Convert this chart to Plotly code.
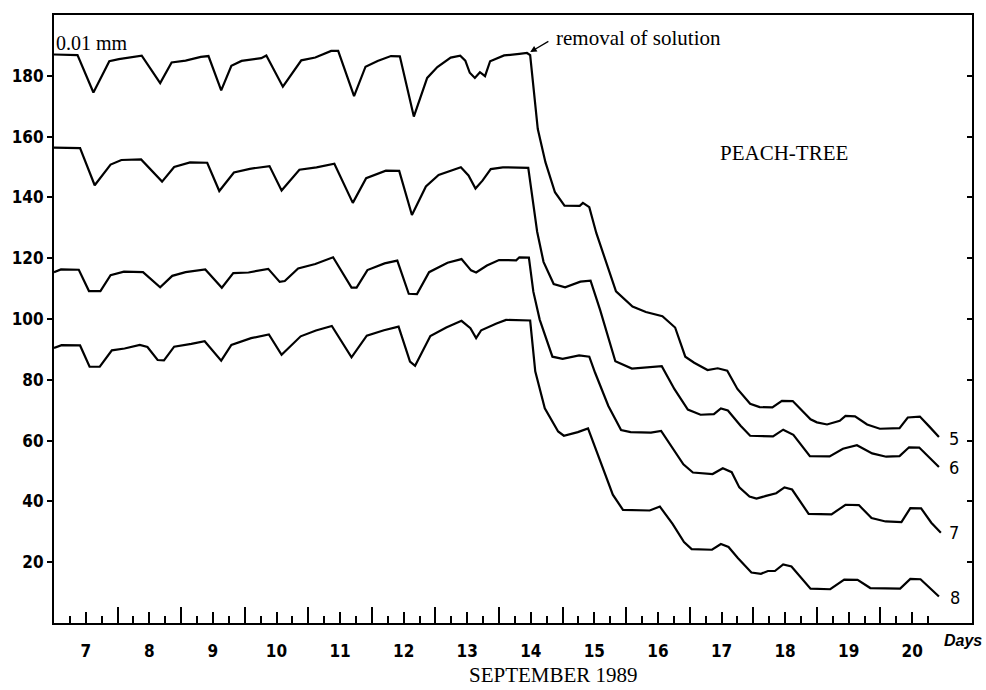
import plotly.graph_objects as go

# ---- data (day of September 1989, reading in 0.01 mm) ----
day5 = [6.50, 6.87, 7.12, 7.37, 7.52, 7.76, 7.88, 8.17, 8.35, 8.57,
        8.81, 8.93, 9.13, 9.29, 9.45, 9.76, 9.84, 10.10, 10.29, 10.39,
        10.61, 10.86, 10.97, 11.22, 11.40, 11.59, 11.80, 11.94, 12.16, 12.37,
        12.53, 12.74, 12.89, 12.97, 13.04, 13.12, 13.20, 13.28, 13.36, 13.58,
        13.82, 13.94, 13.99, 14.11, 14.23, 14.38, 14.53, 14.77, 14.82, 14.92,
        15.03, 15.34, 15.60, 15.81, 16.07, 16.27, 16.43, 16.57, 16.78, 16.94,
        17.09, 17.25, 17.45, 17.60, 17.80, 17.95, 18.12, 18.40, 18.50, 18.66,
        18.86, 18.95, 19.10, 19.29, 19.49, 19.80, 19.93, 20.12, 20.27, 20.42]
val5 = [187.0, 186.8, 174.5, 184.8, 185.5, 186.3, 186.6, 177.6, 184.4, 185.0,
        186.2, 186.5, 175.2, 183.3, 184.9, 185.8, 186.7, 176.4, 182.2, 185.1,
        186.0, 188.2, 188.2, 173.3, 183.0, 184.9, 186.5, 186.4, 166.6, 179.3,
        182.9, 186.0, 186.6, 185.0, 181.0, 179.3, 181.2, 179.9, 184.8, 186.7,
        187.2, 187.5, 186.8, 162.5, 151.6, 141.7, 137.3, 137.2, 138.2, 136.8,
        128.3, 109.1, 104.1, 102.3, 100.9, 97.2, 87.6, 85.6, 83.2, 83.8,
        83.0, 77.0, 72.1, 71.0, 70.9, 73.1, 73.0, 67.0, 66.0, 65.3,
        66.5, 68.1, 68.0, 65.3, 63.9, 64.1, 67.6, 67.9, 64.6, 61.2]

day6 = [6.50, 6.91, 7.14, 7.39, 7.56, 7.87, 8.20, 8.39, 8.64, 8.91,
        9.10, 9.33, 9.58, 9.89, 10.08, 10.36, 10.63, 10.91, 11.20, 11.41,
        11.72, 11.93, 12.13, 12.35, 12.55, 12.90, 13.02, 13.13, 13.24, 13.37,
        13.56, 13.96, 14.10, 14.20, 14.36, 14.54, 14.78, 14.94, 15.09, 15.33,
        15.59, 15.86, 16.06, 16.26, 16.47, 16.67, 16.88, 16.99, 17.10, 17.30,
        17.45, 17.81, 17.97, 18.13, 18.39, 18.70, 18.91, 19.13, 19.37, 19.59,
        19.80, 19.95, 20.11, 20.42]
val6 = [156.4, 156.2, 144.0, 150.8, 152.3, 152.5, 145.2, 150.0, 151.5, 151.4,
        142.1, 148.2, 149.4, 150.3, 142.3, 149.1, 149.9, 151.1, 138.2, 146.3,
        148.8, 148.7, 134.2, 143.6, 147.4, 149.9, 147.2, 142.9, 145.5, 149.3,
        149.9, 149.7, 128.7, 118.8, 111.5, 110.4, 112.3, 112.6, 103.0, 86.1,
        83.7, 84.3, 84.5, 76.9, 70.2, 68.5, 68.7, 70.6, 69.9, 64.9,
        61.6, 61.4, 63.6, 61.9, 54.9, 54.8, 57.3, 58.5, 55.8, 54.7,
        54.9, 57.8, 57.7, 51.3]

day7 = [6.50, 6.61, 6.89, 7.05, 7.23, 7.39, 7.60, 7.90, 8.17, 8.36,
        8.57, 8.88, 9.14, 9.32, 9.56, 9.87, 10.05, 10.13, 10.34, 10.61,
        10.89, 11.18, 11.26, 11.43, 11.70, 11.90, 12.08, 12.21, 12.40, 12.69,
        12.91, 13.06, 13.14, 13.31, 13.50, 13.77, 13.82, 13.97, 14.04, 14.14,
        14.34, 14.50, 14.76, 14.92, 15.01, 15.22, 15.42, 15.57, 15.89, 16.05,
        16.40, 16.55, 16.86, 17.02, 17.16, 17.28, 17.44, 17.55, 17.70, 17.86,
        17.99, 18.11, 18.37, 18.73, 18.95, 19.16, 19.36, 19.58, 19.83, 19.97,
        20.14, 20.30, 20.45]
val7 = [115.4, 116.3, 116.2, 109.2, 109.2, 114.4, 115.6, 115.4, 110.4, 114.2,
        115.4, 116.3, 110.3, 115.1, 115.3, 116.5, 112.2, 112.5, 116.6, 118.1,
        120.3, 110.3, 110.3, 116.1, 118.3, 119.2, 108.3, 108.2, 115.4, 118.5,
        119.7, 116.0, 115.3, 117.6, 119.4, 119.3, 120.3, 120.2, 109.0, 99.8,
        87.6, 86.9, 88.0, 87.6, 82.4, 71.4, 63.5, 62.8, 62.6, 63.2,
        52.2, 49.5, 49.0, 50.9, 49.6, 44.6, 41.6, 40.9, 41.8, 42.7,
        44.6, 43.9, 35.9, 35.7, 38.9, 38.8, 34.5, 33.4, 33.2, 37.8,
        37.7, 33.0, 29.7]

day8 = [6.50, 6.62, 6.91, 7.06, 7.22, 7.41, 7.61, 7.85, 7.97, 8.13,
        8.23, 8.39, 8.66, 8.87, 9.13, 9.29, 9.60, 9.88, 10.08, 10.38,
        10.62, 10.87, 11.18, 11.42, 11.69, 11.92, 12.10, 12.18, 12.42, 12.67,
        12.91, 13.05, 13.14, 13.22, 13.46, 13.61, 13.99, 14.07, 14.22, 14.43,
        14.52, 14.74, 14.90, 15.10, 15.29, 15.45, 15.87, 16.03, 16.23, 16.41,
        16.53, 16.85, 16.99, 17.11, 17.26, 17.47, 17.62, 17.73, 17.84, 17.97,
        18.10, 18.40, 18.71, 18.93, 19.14, 19.34, 19.81, 19.97, 20.13, 20.42]
val8 = [90.5, 91.4, 91.3, 84.3, 84.3, 89.7, 90.3, 91.5, 90.8, 86.5,
        86.4, 90.9, 91.8, 92.7, 86.3, 91.5, 93.7, 94.9, 88.2, 94.3,
        96.2, 97.7, 87.4, 94.5, 96.3, 97.5, 86.0, 84.6, 94.4, 97.2,
        99.4, 97.0, 93.7, 96.3, 98.5, 99.7, 99.5, 82.8, 70.6, 63.0,
        61.6, 62.8, 64.0, 52.8, 42.2, 37.2, 37.0, 38.3, 32.6, 26.6,
        24.3, 24.1, 26.0, 25.0, 21.3, 16.6, 16.2, 17.1, 17.1, 19.3,
        18.6, 11.3, 11.1, 14.3, 14.2, 11.5, 11.3, 14.5, 14.4, 8.7]

series_names = ["5", "6", "7", "8"]
series_days = [day5, day6, day7, day8]
series_vals = [val5, val6, val7, val8]
label_pos_day = [20.54, 20.54, 20.54, 20.56]
label_pos_val = [60.8, 51.3, 29.7, 8.4]

day_ticks = list(range(7, 21))
day_labels = [str(d) for d in day_ticks]
quarter_ticks = [d + 0.25 for d in range(6, 21)] + [d + 0.75 for d in range(6, 20)]
midnight_ticks = [d + 0.5 for d in range(7, 20)]
y_ticks = [20, 40, 60, 80, 100, 120, 140, 160, 180]

X_RANGE = [6.50, 20.94]
Y_RANGE = [0, 200]

NARROW = "Liberation Sans Narrow, DejaVu Sans Condensed, Arial Narrow, sans-serif"
SERIF = "Liberation Serif, Times New Roman, serif"

fig = go.Figure()
for name, d, v in zip(series_names, series_days, series_vals):
    fig.add_trace(go.Scatter(x=d, y=v, mode="lines", name=name,
                             line=dict(color="black", width=2.2),
                             hoverinfo="skip", showlegend=False))

# invisible anchors so the extra tick axes get drawn
fig.add_trace(go.Scatter(x=day5[:1], y=val5[:1], xaxis="x2", yaxis="y",
                         mode="markers", marker=dict(opacity=0),
                         hoverinfo="skip", showlegend=False))
fig.add_trace(go.Scatter(x=day5[:1], y=val5[:1], xaxis="x", yaxis="y2",
                         mode="markers", marker=dict(opacity=0),
                         hoverinfo="skip", showlegend=False))

annotations = []
for name, dx, vy in zip(series_names, label_pos_day, label_pos_val):
    annotations.append(dict(x=dx, y=vy, xref="x", yref="y", text=name,
                            showarrow=False, xanchor="left", yanchor="middle",
                            font=dict(family=NARROW, size=18, color="black")))

annotations += [
    dict(x=0.0, y=0.954, xref="paper", yref="paper", text="0.01 mm",
         showarrow=False, xanchor="left", yanchor="middle",
         font=dict(family=SERIF, size=20, color="black")),
    dict(x=14.36, y=192.5, xref="x", yref="y", text="removal of solution",
         showarrow=False, xanchor="left", yanchor="middle",
         font=dict(family=SERIF, size=21, color="black")),
    dict(x=13.99, y=187.8, xref="x", yref="y", ax=14.30, ay=191.6,
         axref="x", ayref="y", text="", showarrow=True, arrowhead=2,
         arrowsize=1, arrowwidth=1.3, arrowcolor="black"),
    dict(x=0.795, y=0.773, xref="paper", yref="paper", text="PEACH-TREE",
         showarrow=False, xanchor="center", yanchor="middle",
         font=dict(family=SERIF, size=21, color="black")),
    dict(x=0.544, y=-0.0855, xref="paper", yref="paper", text="SEPTEMBER 1989",
         showarrow=False, xanchor="center", yanchor="middle",
         font=dict(family=SERIF, size=21, color="black")),
    dict(x=0.990, y=-0.028, xref="paper", yref="paper", text="<i>Days</i>",
         showarrow=False, xanchor="center", yanchor="middle",
         font=dict(family="Liberation Sans, Arial, sans-serif", size=16,
                   color="black", weight="bold")),
]

fig.update_layout(
    width=986, height=690,
    margin=dict(l=50, r=14, t=15, b=67),
    paper_bgcolor="white", plot_bgcolor="white",
    showlegend=False,
    xaxis=dict(range=X_RANGE, showline=True, linecolor="black", linewidth=2,
               mirror=True, showgrid=False, zeroline=False,
               ticks="inside", tickmode="array", tickvals=day_ticks,
               ticktext=day_labels, ticklen=11, tickwidth=2, tickcolor="black",
               ticklabelstandoff=12,
               tickfont=dict(family=NARROW, size=17, color="black", weight="bold"),
               minor=dict(tickmode="array", tickvals=quarter_ticks, ticks="inside",
                          ticklen=7, tickwidth=2, tickcolor="black", showgrid=False)),
    xaxis2=dict(range=X_RANGE, overlaying="x", anchor="y", side="bottom",
                showline=False, showgrid=False, zeroline=False,
                ticks="inside", tickmode="array", tickvals=midnight_ticks,
                ticklen=16, tickwidth=2, tickcolor="black", showticklabels=False),
    yaxis=dict(range=Y_RANGE, showline=True, linecolor="black", linewidth=2,
               mirror=True, showgrid=False, zeroline=False,
               ticks="outside", tickmode="array", tickvals=y_ticks,
               ticklen=5, tickwidth=2, tickcolor="black",
               tickfont=dict(family=NARROW, size=17, color="black", weight="bold")),
    yaxis2=dict(range=Y_RANGE, overlaying="y", anchor="x", side="right",
                showline=False, showgrid=False, zeroline=False,
                ticks="inside", tickmode="array", tickvals=y_ticks,
                ticklen=5, tickwidth=2, tickcolor="black", showticklabels=False),
    annotations=annotations,
)

fig.write_html("out.html")
